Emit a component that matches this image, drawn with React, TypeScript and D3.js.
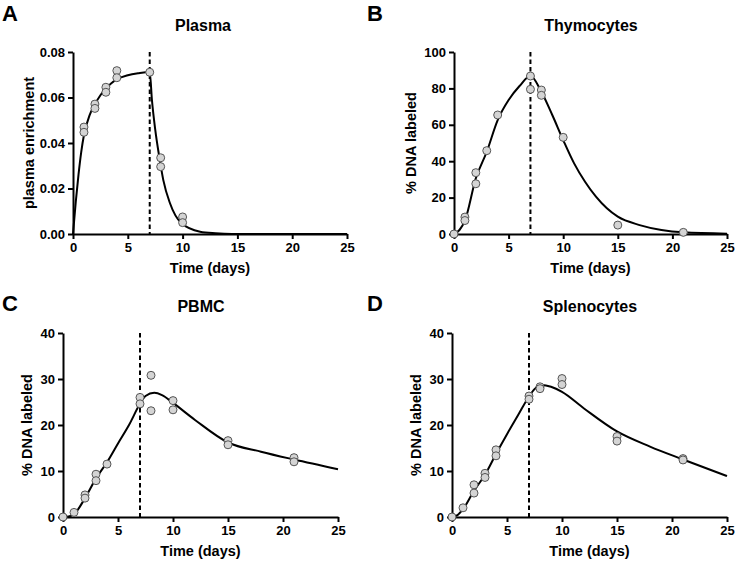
import { useEffect, useRef } from "react";
import * as d3 from "d3";

// measured points (day, value)
const plasmaDays = [1, 1, 2, 2, 3, 3, 4, 4, 7, 8, 8, 10, 10];
const plasmaVals = [0.047, 0.0447, 0.0571, 0.0552, 0.0645, 0.0623, 0.0718, 0.0687, 0.0711, 0.0335, 0.0296, 0.0075, 0.005];

const thymoDays = [0, 1, 1, 2, 2, 3, 4, 7, 7, 8, 8, 10, 15, 21];
const thymoVals = [0, 9.3, 7.4, 33.7, 27.6, 45.8, 65.4, 86.8, 79.5, 79.1, 76.2, 53.1, 4.9, 0.9];

const pbmcDays = [0, 1, 2, 2, 3, 3, 4, 7, 7, 8, 8, 10, 10, 15, 15, 21, 21];
const pbmcVals = [0, 1.0, 4.8, 4.1, 9.3, 7.9, 11.5, 26.0, 24.6, 30.8, 23.1, 25.3, 23.3, 16.6, 15.7, 12.9, 12.0];

const splenoDays = [0, 1, 2, 2, 3, 3, 4, 4, 7, 7, 8, 8, 10, 10, 15, 15, 21, 21];
const splenoVals = [0, 2.0, 7.0, 5.2, 9.5, 8.6, 14.6, 13.3, 26.3, 25.6, 28.3, 27.9, 30.1, 28.8, 17.5, 16.5, 12.7, 12.4];

// fitted model curves
const plasmaFitDays = [0, 0.25, 0.5, 0.75, 1, 1.5, 2, 2.5, 3, 3.5, 4, 5, 6, 7, 7.2, 7.5, 7.87, 8.24, 8.85, 9.9, 11.6, 13, 14.5, 25];
const plasmaFitVals = [0, 0.014, 0.026, 0.036, 0.0435, 0.052, 0.057, 0.061, 0.064, 0.0663, 0.068, 0.0698, 0.0707, 0.0712, 0.059, 0.046, 0.034, 0.0237, 0.0135, 0.0047, 0.001, 0.0003, 0, 0];

const thymoFitDays = [0, 0.5, 1, 2, 3, 4, 5, 6, 7, 8, 9, 10, 11, 12, 13, 14, 15, 17, 19, 21, 25];
const thymoFitVals = [0, 2.2, 7.3, 30.6, 45.2, 62.6, 73.6, 81.3, 86.8, 78.2, 65.4, 51.6, 38.8, 28.7, 20.5, 14.1, 9.5, 4.9, 2.2, 0.9, 0.2];

const pbmcFitDays = [0, 0.5, 1, 2, 3, 4, 5, 6, 7, 7.5, 8.3, 9, 10, 12, 15, 18, 21, 25];
const pbmcFitVals = [0, 0.1, 0.6, 4.1, 8.4, 11.9, 16.0, 20.0, 24.6, 26.3, 27.0, 26.5, 24.8, 21.1, 16.2, 14.2, 12.5, 10.4];

const splenoFitDays = [0, 0.5, 1, 2, 3, 4, 5, 6, 7, 7.5, 8.2, 9, 10, 12, 15, 18, 21, 25];
const splenoFitVals = [0, 0.4, 1.7, 5.7, 9.2, 13.7, 18.0, 22.1, 26.2, 27.8, 28.7, 28.3, 27.2, 23.6, 18.6, 15.3, 12.5, 8.9];

const xTicks = [0, 5, 10, 15, 20, 25];
const plasmaTicks = [0, 0.02, 0.04, 0.06, 0.08];
const thymoTicks = [0, 20, 40, 60, 80, 100];
const pctTicks = [0, 10, 20, 30, 40];

const FONT = "'Liberation Sans', Arial, sans-serif";
const dosingEnd = 7;

const panels = [
  {
    letter: "A", title: "Plasma", ylabel: "plasma enrichment",
    days: plasmaDays, vals: plasmaVals, fitDays: plasmaFitDays, fitVals: plasmaFitVals,
    yTicks: plasmaTicks, fmt: d3.format(".2f"),
    xr: [73, 347], yr: [234, 52], letterPos: [2, 21], titleX: 203, labelX: 34,
  },
  {
    letter: "B", title: "Thymocytes", ylabel: "% DNA labeled",
    days: thymoDays, vals: thymoVals, fitDays: thymoFitDays, fitVals: thymoFitVals,
    yTicks: thymoTicks, fmt: d3.format("d"),
    xr: [454, 727], yr: [234, 52], letterPos: [367, 21], titleX: 591, labelX: 416,
  },
  {
    letter: "C", title: "PBMC", ylabel: "% DNA labeled",
    days: pbmcDays, vals: pbmcVals, fitDays: pbmcFitDays, fitVals: pbmcFitVals,
    yTicks: pctTicks, fmt: d3.format("d"),
    xr: [63, 338], yr: [517, 333], letterPos: [2, 311], titleX: 201, labelX: 32,
  },
  {
    letter: "D", title: "Splenocytes", ylabel: "% DNA labeled",
    days: splenoDays, vals: splenoVals, fitDays: splenoFitDays, fitVals: splenoFitVals,
    yTicks: pctTicks, fmt: d3.format("d"),
    xr: [452, 727], yr: [517, 333], letterPos: [367, 311], titleX: 590, labelX: 421,
  },
];

const App = () => {
  const svgRef = useRef<SVGSVGElement>(null);

  useEffect(() => {
    const svg = d3.select(svgRef.current);
    svg.selectAll("*").remove();
    svg.style("font-family", FONT);

    panels.forEach((p) => {
      const yMax = p.yTicks[p.yTicks.length - 1];
      const x = d3.scaleLinear().domain([0, 25]).range(p.xr);
      const y = d3.scaleLinear().domain([0, yMax]).range(p.yr);
      const g = svg.append("g");

      // panel letter + title
      g.append("text")
        .attr("x", p.letterPos[0]).attr("y", p.letterPos[1])
        .attr("font-size", 22).attr("font-weight", "bold")
        .text(p.letter);
      g.append("text")
        .attr("x", p.titleX).attr("y", p.yr[1] - 21)
        .attr("text-anchor", "middle")
        .attr("font-size", 16).attr("font-weight", "bold")
        .text(p.title);

      // x axis
      g.append("g")
        .attr("transform", `translate(0,${p.yr[0]})`)
        .call(d3.axisBottom(x).tickValues(xTicks).tickSize(5).tickSizeOuter(0).tickPadding(4))
        .call((a) => a.select(".domain").attr("stroke-width", 2))
        .call((a) => a.selectAll(".tick line").attr("stroke-width", 2))
        .call((a) => a.selectAll("text").attr("font-size", 13).attr("font-weight", "bold").attr("fill", "#000").attr("font-family", FONT));

      // y axis
      g.append("g")
        .attr("transform", `translate(${p.xr[0]},0)`)
        .call(d3.axisLeft(y).tickValues(p.yTicks).tickFormat(p.fmt as any).tickSize(5).tickSizeOuter(0).tickPadding(3))
        .call((a) => a.select(".domain").attr("stroke-width", 2))
        .call((a) => a.selectAll(".tick line").attr("stroke-width", 2))
        .call((a) => a.selectAll("text").attr("font-size", 13).attr("font-weight", "bold").attr("fill", "#000").attr("font-family", FONT));

      // axis titles
      g.append("text")
        .attr("x", (p.xr[0] + p.xr[1]) / 2).attr("y", p.yr[0] + 39)
        .attr("text-anchor", "middle")
        .attr("font-size", 14.5).attr("font-weight", "bold")
        .text("Time (days)");
      g.append("text")
        .attr("transform", `translate(${p.labelX},${(p.yr[0] + p.yr[1]) / 2}) rotate(-90)`)
        .attr("text-anchor", "middle")
        .attr("font-size", 14.5).attr("font-weight", "bold")
        .text(p.ylabel);

      // end of labeling
      g.append("line")
        .attr("x1", x(dosingEnd)).attr("x2", x(dosingEnd))
        .attr("y1", y(yMax)).attr("y2", y(0))
        .attr("stroke", "#000").attr("stroke-width", 2)
        .attr("stroke-dasharray", "4.5,3");

      // fitted curve
      const fit = p.fitDays.map((d, i) => [d, p.fitVals[i]] as [number, number]);
      const line = d3.line<[number, number]>()
        .x((d) => x(d[0]))
        .y((d) => y(d[1]))
        .curve(d3.curveMonotoneX);
      g.append("path")
        .datum(fit)
        .attr("d", line)
        .attr("fill", "none")
        .attr("stroke", "#000")
        .attr("stroke-width", 2);

      // data points
      const pts = p.days.map((d, i) => [d, p.vals[i]] as [number, number]);
      g.append("g")
        .selectAll("circle")
        .data(pts)
        .join("circle")
        .attr("cx", (d) => x(d[0]))
        .attr("cy", (d) => y(d[1]))
        .attr("r", 4)
        .attr("fill", "#d4d4d4")
        .attr("stroke", "#555")
        .attr("stroke-width", 1);
    });

    return () => {
      svg.selectAll("*").remove();
    };
  }, []);

  return (
    <svg
      ref={svgRef}
      width={737}
      height={563}
      style={{ position: "absolute", left: 0, top: 0, background: "#fff" }}
    />
  );
};

export default App;
